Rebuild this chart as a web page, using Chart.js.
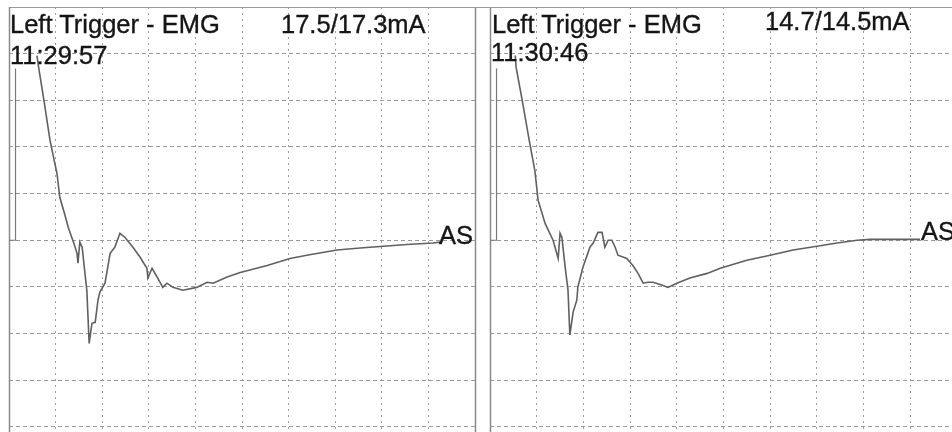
<!DOCTYPE html>
<html>
<head>
<meta charset="utf-8">
<title>Left Trigger - EMG</title>
<script src="https://cdn.jsdelivr.net/npm/chart.js@4.4.1/dist/chart.umd.min.js"></script>
<style>
  html, body { margin: 0; padding: 0; background: #fff; }
  body {
    width: 952px; height: 432px; overflow: hidden; position: relative;
    font-family: "Liberation Sans", Arial, sans-serif;
  }
  canvas { position: absolute; top: 0; }
  #leftChart { left: 0; }
  #rightChart { left: 482px; }
  .lbl {
    position: absolute; font-size: 25.5px; line-height: 26px;
    color: #151515; white-space: nowrap;
    -webkit-text-stroke: 0.35px #151515;
  }
</style>
</head>
<body>
<canvas id="leftChart" width="482" height="432"></canvas>
<canvas id="rightChart" width="480" height="432"></canvas>

<div class="lbl" id="title1" style="left:10px; top:11px;"></div>
<div class="lbl" id="time1" style="left:10px; top:42px;"></div>
<div class="lbl" id="current1" style="left:281px; top:11px;"></div>
<div class="lbl" id="mark1" style="left:439px; top:222px;"></div>

<div class="lbl" id="title2" style="left:492px; top:11px;"></div>
<div class="lbl" id="time2" style="left:491px; top:39px;"></div>
<div class="lbl" id="current2" style="left:765px; top:8px;"></div>
<div class="lbl" id="mark2" style="left:921px; top:218px;"></div>

<script>
// grid divisions (one division per dashed line)
const xGrid = [0, 1, 2, 3, 4, 5, 6, 7, 8, 9, 10];
const yGrid = [-4, -3, -2, -1, 0, 1, 2, 3, 4, 5];

// panel texts
const panelTitles = ["Left Trigger - EMG", "Left Trigger - EMG"];
const panelTimes = ["11:29:57", "11:30:46"];
const panelCurrents = ["17.5/17.3mA", "14.7/14.5mA"];
const endMarker = "AS";

// left panel trace (grid divisions)
const leftX = [0.60, 0.64, 0.75, 0.88, 1.03, 1.09, 1.20, 1.27, 1.39, 1.46, 1.48, 1.52, 1.57,
  1.63, 1.67, 1.72, 1.78, 1.85, 1.91, 1.95, 2.06, 2.17, 2.27, 2.38, 2.49, 2.66, 2.81, 2.96,
  2.98, 3.07, 3.18, 3.30, 3.39, 3.52, 3.73, 4.03, 4.25, 4.38, 4.68, 4.96, 5.54, 6.03, 6.39,
  7.04, 7.47, 8.03, 8.54, 9.10, 9.25];
const leftY = [3.96, 3.68, 3.00, 2.14, 1.43, 0.92, 0.54, 0.28, -0.06, -0.28, -0.49, -0.04, -0.15,
  -0.71, -1.07, -2.21, -1.78, -1.76, -1.28, -1.11, -0.92, -0.28, -0.15, 0.15, 0.06, -0.15, -0.36, -0.60,
  -0.81, -0.60, -0.79, -1.01, -0.92, -1.01, -1.07, -1.01, -0.90, -0.92, -0.79, -0.69, -0.54, -0.39, -0.32,
  -0.21, -0.17, -0.13, -0.09, -0.06, -0.04];

// right panel trace (grid divisions)
const rightX = [0.54, 0.56, 0.69, 0.84, 0.96, 1.03, 1.18, 1.35, 1.46, 1.50, 1.54, 1.61, 1.67,
  1.71, 1.78, 1.86, 1.88, 1.99, 2.14, 2.21, 2.31, 2.40, 2.46, 2.53, 2.61, 2.68, 2.74, 2.93,
  3.06, 3.17, 3.28, 3.38, 3.49, 3.68, 3.81, 4.00, 4.28, 4.65, 4.93, 5.50, 6.00, 6.49, 7.00,
  7.43, 7.86, 8.14, 9.21];
const rightY = [3.96, 3.70, 3.00, 2.14, 1.50, 0.86, 0.36, 0.00, -0.39, 0.15, 0.06, -0.58, -1.07,
  -2.03, -1.54, -1.28, -1.01, -0.58, -0.15, -0.06, 0.17, 0.17, -0.15, 0.00, 0.00, -0.15, -0.32, -0.39,
  -0.54, -0.71, -0.92, -0.90, -0.90, -0.96, -1.01, -0.92, -0.81, -0.71, -0.60, -0.43, -0.32, -0.21, -0.13,
  -0.06, 0.00, 0.02, 0.02];

// calibration step at the start of each trace
const pulseX = [0, 0.14, 0.14];
const pulseY = [0, 0, 3.68];

function toPoints(xs, ys) {
  return xs.map((x, i) => ({ x: x, y: ys[i] }));
}

// solid panel borders (left / right edges and the top rule)
const framePlugin = {
  id: "frame",
  beforeDatasetsDraw(chart, args, opts) {
    const { ctx, chartArea: a } = chart;
    ctx.save();
    ctx.strokeStyle = opts.color;
    ctx.lineWidth = opts.width;
    ctx.beginPath();
    if (opts.left) {
      ctx.moveTo(a.left + 0.5, a.top);
      ctx.lineTo(a.left + 0.5, a.bottom);
    }
    if (opts.right) {
      ctx.moveTo(a.right + 0.5, a.top);
      ctx.lineTo(a.right + 0.5, a.bottom);
    }
    ctx.stroke();
    ctx.strokeStyle = opts.topColor;
    ctx.lineWidth = 1;
    ctx.beginPath();
    ctx.moveTo(opts.topFrom, a.top + 0.5);
    ctx.lineTo(opts.topTo, a.top + 0.5);
    ctx.stroke();
    ctx.restore();
  },
};

function makePanel(id, xs, ys, padding, frame) {
  const ctx = document.getElementById(id).getContext("2d");
  return new Chart(ctx, {
    type: "scatter",
    data: {
      datasets: [
        {
          data: toPoints(xs, ys),
          showLine: true,
          borderColor: "#606060",
          borderWidth: 1.6,
          pointRadius: 0,
          tension: 0,
        },
        {
          data: toPoints(pulseX, pulseY),
          showLine: true,
          borderColor: "#7a7a7a",
          borderWidth: 1.2,
          pointRadius: 0,
        },
      ],
    },
    options: {
      responsive: false,
      animation: false,
      events: [],
      layout: { padding: padding },
      plugins: {
        legend: { display: false },
        tooltip: { enabled: false },
        frame: frame,
      },
      scales: {
        x: {
          type: "linear",
          min: xGrid[0],
          max: xGrid[xGrid.length - 1],
          afterBuildTicks: (scale) => {
            scale.ticks = xGrid.map((v) => ({ value: v }));
          },
          ticks: { display: false },
          grid: { color: "#9c9c9c", lineWidth: 1, drawTicks: false },
          border: { display: false, dash: [2, 4] },
        },
        y: {
          type: "linear",
          min: -4.11,
          max: 5,
          afterBuildTicks: (scale) => {
            scale.ticks = yGrid.map((v) => ({ value: v }));
          },
          ticks: { display: false },
          grid: { color: "#9a9a9a", lineWidth: 1, drawTicks: false },
          border: { display: false, dash: [4, 3] },
        },
      },
    },
    plugins: [framePlugin],
  });
}

makePanel("leftChart", leftX, leftY, { left: 9, right: 7, top: 7, bottom: 0 },
  { left: true, right: true, color: "#8a8a8a", width: 1.5, topColor: "#9a9a9a", topFrom: 9, topTo: 482 });
makePanel("rightChart", rightX, rightY, { left: 8, right: 5, top: 7, bottom: 0 },
  { left: true, right: false, color: "#8a8a8a", width: 1.5, topColor: "#9a9a9a", topFrom: 0, topTo: 480 });

document.getElementById("title1").textContent = panelTitles[0];
document.getElementById("time1").textContent = panelTimes[0];
document.getElementById("current1").textContent = panelCurrents[0];
document.getElementById("mark1").textContent = endMarker;
document.getElementById("title2").textContent = panelTitles[1];
document.getElementById("time2").textContent = panelTimes[1];
document.getElementById("current2").textContent = panelCurrents[1];
document.getElementById("mark2").textContent = endMarker;
</script>
</body>
</html>
